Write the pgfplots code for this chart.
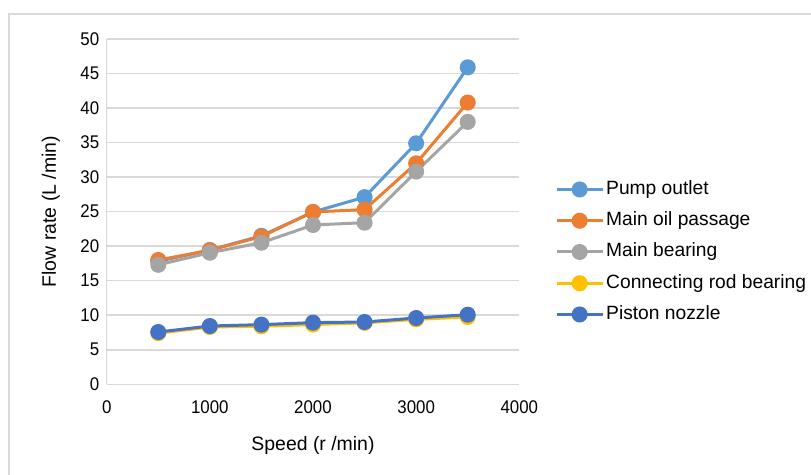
\documentclass[border=0pt]{standalone}
\usepackage{fontspec}
\setmainfont{Liberation Sans}
\newfontfamily\condfont{Liberation Sans}[FakeStretch=0.92]
\usepackage{pgfplots}
\pgfplotsset{compat=1.18}
\definecolor{cPump}{HTML}{5B9BD5}
\definecolor{cOil}{HTML}{ED7D31}
\definecolor{cBear}{HTML}{A5A5A5}
\definecolor{cRod}{HTML}{FFC000}
\definecolor{cPist}{HTML}{4472C4}
\definecolor{cGrid}{HTML}{D9D9D9}
\begin{document}
\begin{tikzpicture}
\useasboundingbox (0,0) rectangle (811bp,475bp);
\fill[white] (0,0) rectangle (811bp,475bp);
\draw[cGrid, line width=1.5bp] (9bp,-10bp) -- (9bp,461bp) -- (830bp,461bp);
\begin{axis}[
  at={(106.7bp,90.7bp)}, anchor=south west,
  scale only axis, width=412.6bp, height=345.3bp,
  xmin=0, xmax=4000, ymin=0, ymax=50,
  xtick={0,1000,2000,3000,4000}, ytick={0,5,...,50},
  axis x line*=bottom, axis y line*=left,
  axis line style={cGrid, line width=1.5bp},
  major tick length=0pt,
  ymajorgrids, grid style={cGrid, line width=1.5bp},
  /pgf/number format/assume math mode=true,
  /pgf/number format/1000 sep={},
  tick label style={font=\condfont\fontsize{18.4}{21}\selectfont, black},
  xticklabel style={yshift=-13bp},
  yticklabel style={xshift=-4bp},
  xlabel={Speed (r /min)}, ylabel={Flow rate (L /min)},
  label style={font=\fontsize{19.5}{22}\selectfont},
  x label style={at={(axis description cs:0.5,-0.1903)}, anchor=base},
  y label style={at={(axis description cs:-0.1229,0.5)}, anchor=base, rotate=0},
  every axis plot/.append style={line width=3bp, mark=*, mark size=6.5bp},
  legend image code/.code={\draw[mark repeat=2,mark phase=2,#1] plot coordinates {(0bp,0bp) (23bp,0bp) (46bp,0bp)};},
  legend cell align=left,
  legend style={at={(axis description cs:1.0865,0.3832)}, anchor=west, draw=none, fill=none,
    font=\fontsize{19.3}{22}\selectfont, inner sep=0pt, row sep=9.25bp,
    nodes={inner sep=2bp, text height=14bp, text depth=4bp}},
]
\addplot[color=cPump, mark options={fill=cPump, draw=cPump}] coordinates {(500,17.8) (1000,19.45) (1500,21.5) (2000,24.95) (2500,27.1) (3000,34.9) (3500,45.9)};
\addlegendentry{Pump outlet}
\addplot[color=cOil, mark options={fill=cOil, draw=cOil}] coordinates {(500,18.0) (1000,19.4) (1500,21.4) (2000,24.95) (2500,25.3) (3000,32.0) (3500,40.8)};
\addlegendentry{Main oil passage}
\addplot[color=cBear, mark options={fill=cBear, draw=cBear}] coordinates {(500,17.3) (1000,19.05) (1500,20.5) (2000,23.07) (2500,23.4) (3000,30.8) (3500,38.0)};
\addlegendentry{Main bearing}
\addplot[color=cRod, mark options={fill=cRod, draw=cRod}] coordinates {(500,7.4) (1000,8.3) (1500,8.4) (2000,8.65) (2500,8.9) (3000,9.4) (3500,9.75)};
\addlegendentry{Connecting rod bearing}
\addplot[color=cPist, mark options={fill=cPist, draw=cPist}] coordinates {(500,7.57) (1000,8.44) (1500,8.64) (2000,8.93) (2500,9.02) (3000,9.6) (3500,10.08)};
\addlegendentry{Piston nozzle}
\end{axis}
\end{tikzpicture}
\end{document}
